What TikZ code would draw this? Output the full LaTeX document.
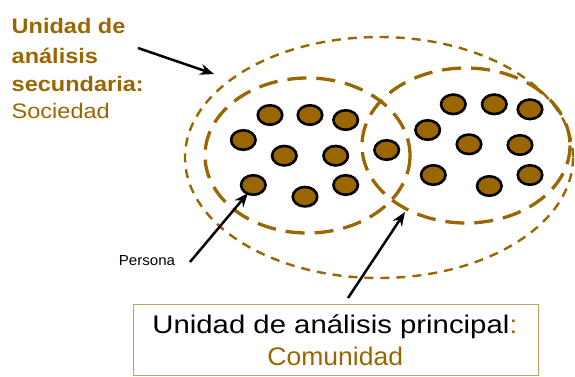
\documentclass[tikz,border=0pt]{standalone}
\usepackage{fontspec}
\usepackage{graphicx}
\setmainfont{Liberation Sans}
\usetikzlibrary{arrows.meta,shapes.geometric}
\definecolor{brn}{HTML}{996600}
\definecolor{boxc}{HTML}{C8A060}
\begin{document}
\begin{tikzpicture}[x=1pt,y=-1pt,
  dot/.style={ellipse,draw=black,line width=2.6pt,fill=brn,minimum width=24.5pt,minimum height=19.5pt,inner sep=0pt},
  outerring/.style={draw=brn,line width=2.4pt,dash pattern=on 9pt off 7pt},
  innerring/.style={draw=brn,line width=3.3pt,dash pattern=on 19pt off 10pt},
  pointer/.style={-{Stealth[length=14pt,width=11pt]},line width=2.5pt,black},
  seclbl/.style={anchor=base west,inner sep=0pt,text=brn,font=\fontsize{21}{25}\selectfont}]
\useasboundingbox (0,0) rectangle (575,376);
% rings
\draw[outerring] (379,157.5) ellipse [x radius=194, y radius=120.5];
\draw[innerring] (307.5,155.5) ellipse [x radius=102.5, y radius=77.5];
\draw[innerring] (466,145.5) ellipse [x radius=104, y radius=77.5];
% persons
\foreach \n/\px/\py in {1/270/115, 2/310/115, 3/345.7/120, 4/243.3/140, 5/284.3/155.7,
  6/335.7/155.7, 7/253.3/185, 8/305/196.7, 9/345.7/185, 10/386.7/150, 11/427.7/130,
  12/453.3/104.3, 13/494.3/104.3, 14/530/109.3, 15/469/144.3, 16/520/145,
  17/433.3/175, 18/489.3/186, 19/530/175}
  \node[dot] (p\n) at (\px,\py) {};
% secondary label
\node[seclbl] (sec1) at (11.5,33.3) {\scalebox{1.12}[1]{\bfseries Unidad de}};
\node[seclbl] (sec2) at (11.5,63.3) {\scalebox{1.12}[1]{\bfseries análisis}};
\node[seclbl] (sec3) at (11.5,91) {\scalebox{1.12}[1]{\bfseries secundaria:}};
\node[seclbl] (sec4) at (11.5,118.3) {\scalebox{1.12}[1]{Sociedad}};
% persona label
\node[anchor=base,font=\fontsize{14.5}{17}\selectfont,inner sep=0pt] (pers) at (147,265.5) {\scalebox{1.04}[1]{Persona}};
% principal box
\node[draw=boxc,line width=1pt,minimum width=405pt,minimum height=71pt,anchor=north west,inner sep=0pt] (box) at (133,304) {};
\node[anchor=base,font=\fontsize{25.5}{30}\selectfont,inner sep=0pt] (prin) at (335,333.3) {\scalebox{1.15}[1]{Unidad de análisis principal\textcolor{brn}{:}}};
\node[anchor=base,font=\fontsize{25.5}{30}\selectfont,text=brn,inner sep=0pt] (com) at (335.3,365.7) {\scalebox{1.04}[1]{Comunidad}};
% arrows
\coordinate (a1s) at (138,48); \coordinate (a1e) at (214,74);
\coordinate (a2s) at (190,262); \coordinate (a2e) at (248,193);
\coordinate (a3s) at (348,298); \coordinate (a3e) at (405,212);
\draw[pointer] (a1s) -- (a1e);
\draw[pointer] (a2s) -- (a2e);
\draw[pointer] (a3s) -- (a3e);
\end{tikzpicture}
\end{document}
